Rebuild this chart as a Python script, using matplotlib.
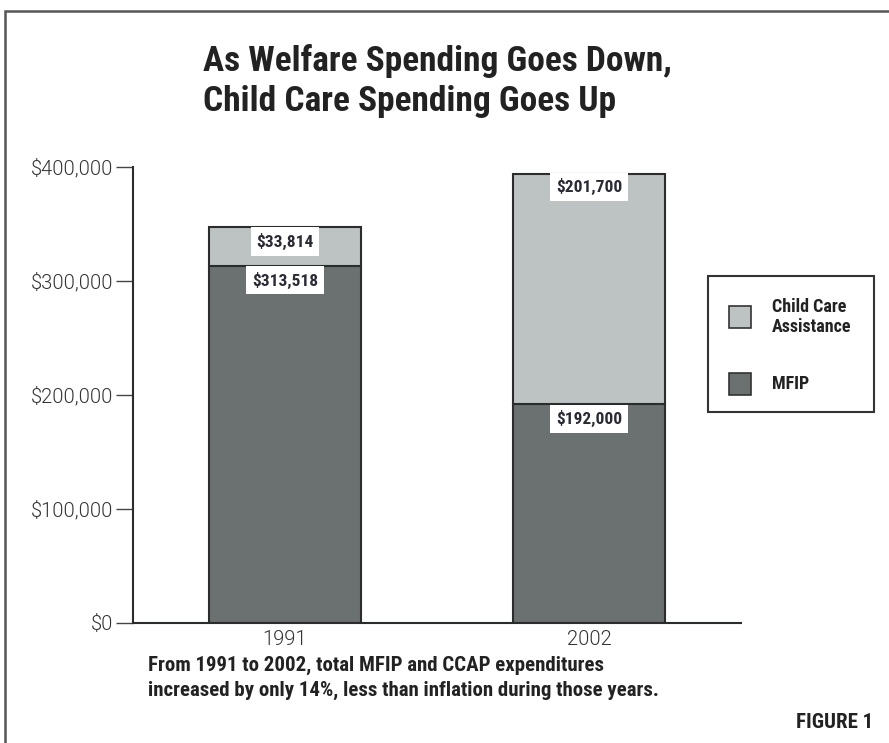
import matplotlib
matplotlib.use("Agg")
import matplotlib.pyplot as plt
from matplotlib.patches import Rectangle
from matplotlib.ticker import FuncFormatter

# data
years = ["1991", "2002"]
mfip = [313518, 192000]
child_care = [33814, 201700]
yticks = [0, 100000, 200000, 300000, 400000]

dark = "#6b7170"
light = "#bdc3c2"
edge = "#2b2d2c"
cond = ["Roboto Condensed", "DejaVu Sans"]

fig = plt.figure(figsize=(8.89, 7.43), dpi=100)
ax = fig.add_axes([133 / 889, 120 / 743, 608 / 889, 456 / 743])

x = range(len(years))
ax.bar(x, mfip, width=0.5, color=dark, edgecolor=edge, linewidth=1.5, zorder=2)
ax.bar(x, child_care, width=0.5, bottom=mfip, color=light, edgecolor=edge,
       linewidth=1.5, zorder=2)

# value labels in white boxes, just under the top of each segment
box = dict(facecolor="white", edgecolor="none", pad=4)
lbl = dict(ha="center", va="center", fontsize=12.5, fontweight="bold",
           family=cond, color="#2a2a35", bbox=box, zorder=3)
ax.text(0, mfip[0] + child_care[0] - 12700, "${:,}".format(child_care[0]), **lbl)
ax.text(0, mfip[0] - 12700, "${:,}".format(mfip[0]), **lbl)
ax.text(1, mfip[1] + child_care[1] - 11000, "${:,}".format(child_care[1]), **lbl)
ax.text(1, mfip[1] - 12700, "${:,}".format(mfip[1]), **lbl)

ax.set_xlim(-0.5, 1.5)
ax.set_ylim(0, 400000)
ax.set_xticks(list(x))
ax.set_xticklabels(years)
ax.set_yticks(yticks)
ax.yaxis.set_major_formatter(FuncFormatter(lambda v, p: "${:,.0f}".format(v)))
for s in ["top", "right"]:
    ax.spines[s].set_visible(False)
for s in ["left", "bottom"]:
    ax.spines[s].set_color(edge)
    ax.spines[s].set_linewidth(1.5)
ax.tick_params(axis="y", length=12, width=1, color="#444444", pad=2,
               labelsize=14.5, labelcolor="#333333")
ax.tick_params(axis="x", length=0, pad=5, labelsize=14.5, labelcolor="#333333")
for t in ax.get_xticklabels() + ax.get_yticklabels():
    t.set_family(["Roboto", "DejaVu Sans"])
    t.set_fontweight(300)

# outer frame
fig.patches.append(Rectangle((5 / 889, -0.05), 1.0, (743 - 11) / 743 + 0.05,
                             transform=fig.transFigure, fill=False,
                             edgecolor="#555555", linewidth=1.8))

# title
tkw = dict(fontsize=25.5, fontweight="bold", family=cond, color="#222222",
           va="center", ha="left")
fig.text(203 / 889, 1 - 61 / 743, "As Welfare Spending Goes Down,", **tkw)
fig.text(203 / 889, 1 - 101 / 743, "Child Care Spending Goes Up", **tkw)

# legend
fig.patches.append(Rectangle((708 / 889, 1 - 412 / 743), 166 / 889, 136 / 743,
                             transform=fig.transFigure, facecolor="white",
                             edgecolor="#333333", linewidth=1.5))
fig.patches.append(Rectangle((729 / 889, 1 - 328 / 743), 22 / 889, 22 / 743,
                             transform=fig.transFigure, facecolor=light,
                             edgecolor="#333333", linewidth=1.2))
fig.patches.append(Rectangle((729 / 889, 1 - 395 / 743), 22 / 889, 22 / 743,
                             transform=fig.transFigure, facecolor=dark,
                             edgecolor="#333333", linewidth=1.2))
skw = dict(fontsize=13, fontweight="bold", family=cond, color="#222222",
           va="center", ha="left")
fig.text(772 / 889, 1 - 317 / 743, "Child Care\nAssistance", linespacing=1.15,
         **skw)
fig.text(772 / 889, 1 - 384 / 743, "MFIP", **skw)

# caption
ckw = dict(skw, fontsize=15)
fig.text(148 / 889, 1 - 665 / 743,
         "From 1991 to 2002, total MFIP and CCAP expenditures", **ckw)
fig.text(148 / 889, 1 - 690 / 743,
         "increased by only 14%, less than inflation during those years.", **ckw)
ckw["ha"] = "right"
fig.text(873 / 889, 1 - 722 / 743, "FIGURE 1", **ckw)

fig.savefig("out.png", dpi=100)
